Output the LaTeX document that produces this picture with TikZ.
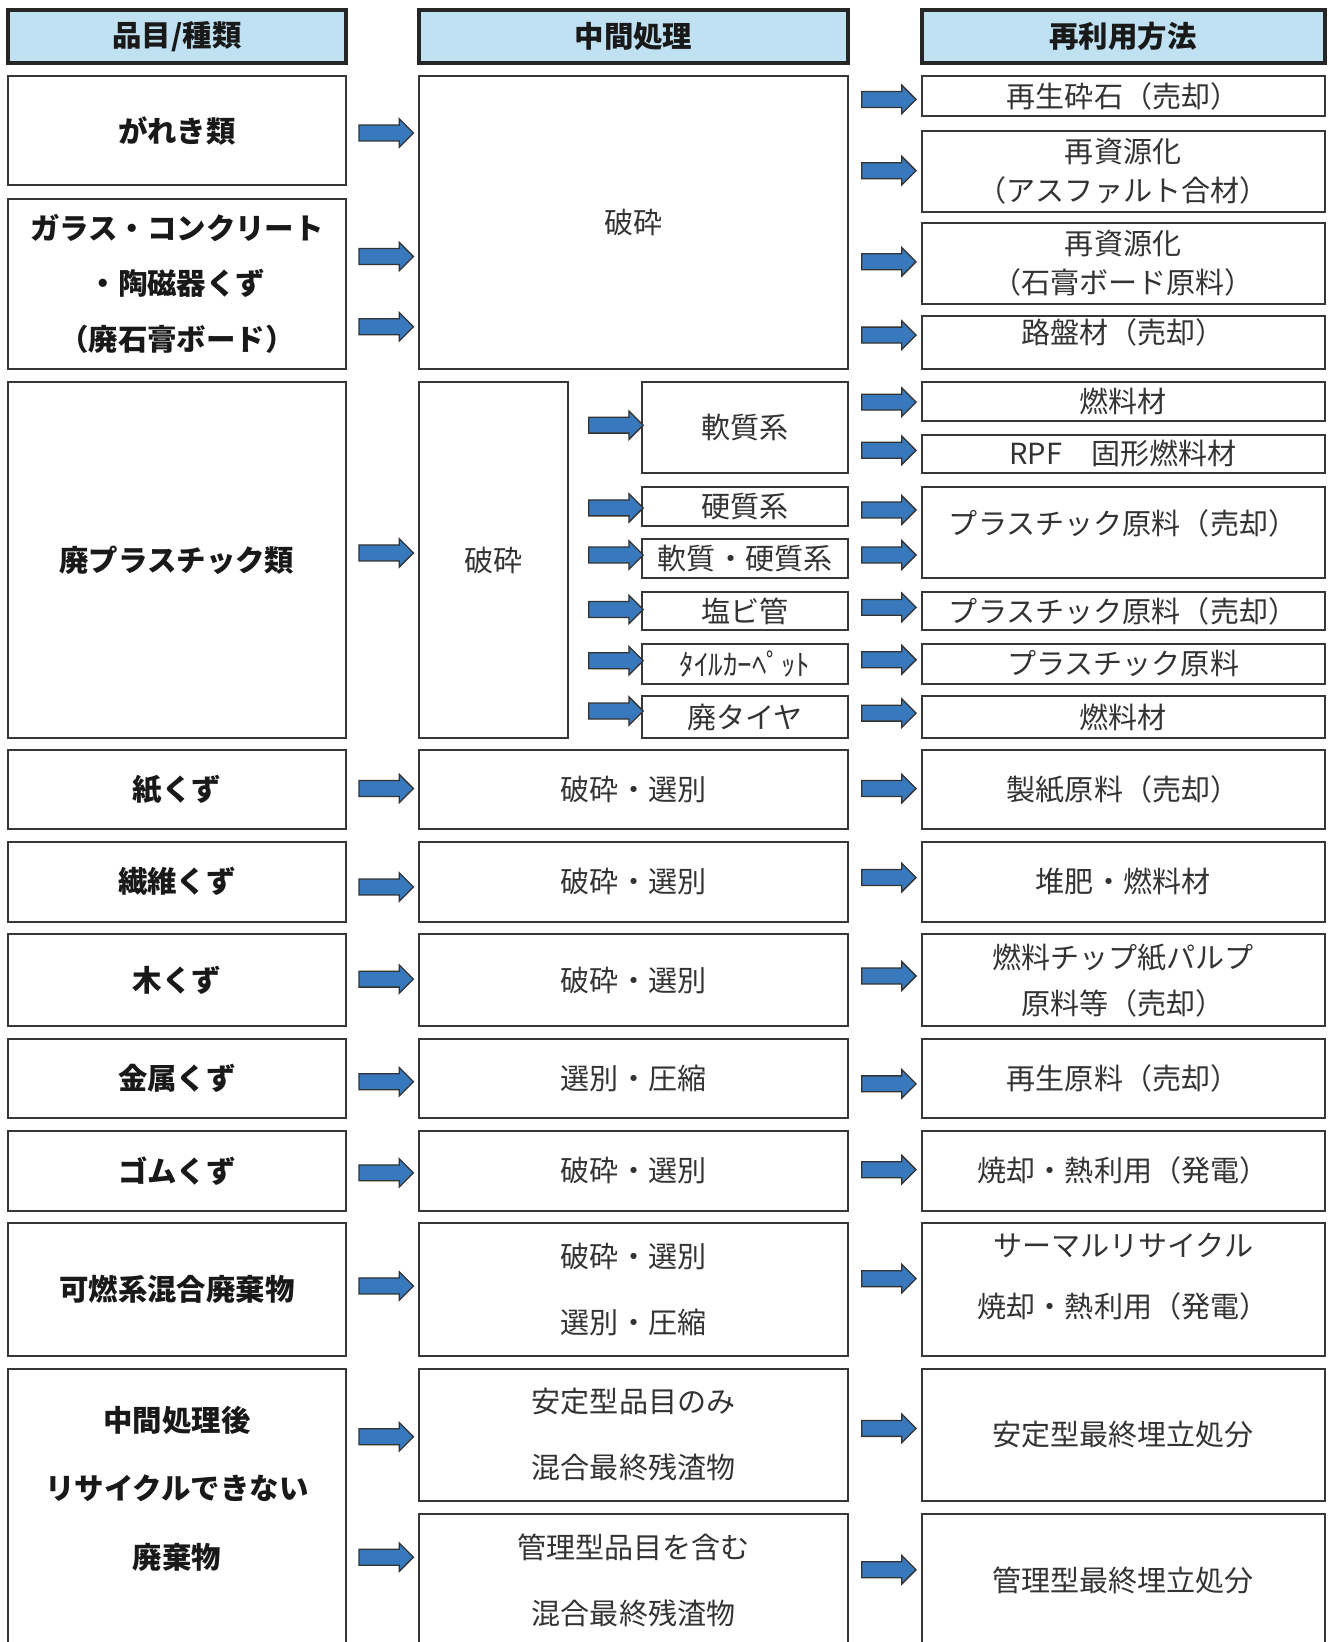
\documentclass[tikz,border=0pt]{standalone}
\usepackage{fontspec}
\setmainfont{Noto Sans CJK JP}
\usepackage{tikz}
\usetikzlibrary{shapes.arrows, positioning, calc}
\definecolor{head-blue}{RGB}{192,225,242}
\definecolor{flow-blue}{RGB}{56,120,188}
\definecolor{edge-gray}{RGB}{55,55,55}

\begin{document}
\begin{tikzpicture}[
    x=0.02cm, y=-0.02cm,
    box/.style={rectangle, draw=edge-gray, line width=1.1pt, inner sep=0pt, align=center, text=black!80, font=\fontsize{15.8}{18}\selectfont},
    kind/.style={box, minimum width=6.44cm, font=\fontsize{16}{18}\selectfont\bfseries, text=black!90},
    proc/.style={box, minimum width=8.2cm},
    sub/.style={box, minimum width=3.94cm},
    reuse/.style={box, minimum width=7.7cm},
    head/.style={box, fill=head-blue, draw=black!85, line width=2.2pt, minimum height=1cm, font=\fontsize{16}{18}\selectfont\bfseries, text=black!90},
    flow/.style={single arrow, draw=black!80, fill=flow-blue, line width=0.7pt, inner sep=0.14cm, single arrow head extend=0.12cm, minimum height=1.04cm}
]
\useasboundingbox (0,0) rectangle (1268,1568);

% Kopfzeile
\node[head, minimum width=6.44cm] (h-kind) at (169,35) {品目/種類};
\node[head, minimum width=8.2cm] (h-proc) at (605,35) {中間処理};
\node[head, minimum width=7.7cm] (h-reuse) at (1072.5,35) {再利用方法};

%品目/種類
\node[kind, minimum height=2.08cm] (gareki) at (169,125) {がれき類};
\node[kind, minimum height=3.24cm] (glass) at (169,271) {ガラス・コンクリート\\[12pt]・陶磁器くず\\[12pt]（廃石膏ボード）};
\node[kind, minimum height=6.8cm] (plastic) at (169,535) {廃プラスチック類};
\node[kind, minimum height=1.52cm] (paper) at (169,754) {紙くず};
\node[kind, minimum height=1.52cm] (fiber) at (169,842) {繊維くず};
\node[kind, minimum height=1.76cm] (wood) at (169,936) {木くず};
\node[kind, minimum height=1.52cm] (metal) at (169,1030) {金属くず};
\node[kind, minimum height=1.52cm] (rubber) at (169,1118) {ゴムくず};
\node[kind, minimum height=2.54cm] (mixed) at (169,1231.5) {可燃系混合廃棄物};
\node[kind, minimum height=5.3cm, text depth=0.77cm] (residue) at (169,1439.5) {中間処理後\\[19pt]リサイクルできない\\[19pt]廃棄物};

% 中間処理
\node[proc, minimum height=5.58cm] (crush) at (605,212.5) {破砕};
\node[box, minimum width=2.84cm, minimum height=6.8cm] (crush-pl) at (471,535) {破砕};
\node[sub, minimum height=1.74cm] (soft) at (711.5,408.5) {軟質系};
\node[sub, minimum height=0.74cm] (hard) at (711.5,483.5) {硬質系};
\node[sub, minimum height=0.74cm] (both) at (711.5,533.5) {軟質・硬質系};
\node[sub, minimum height=0.74cm] (pvc) at (711.5,583.5) {塩ビ管};
\node[sub, minimum height=0.76cm] (carpet) at (711.5,634) {ﾀｲﾙｶｰﾍﾟｯﾄ};
\node[sub, minimum height=0.8cm] (tire) at (711.5,685) {廃タイヤ};
\node[proc, minimum height=1.52cm] (p-paper) at (605,754) {破砕・選別};
\node[proc, minimum height=1.52cm] (p-fiber) at (605,842) {破砕・選別};
\node[proc, minimum height=1.76cm] (p-wood) at (605,936) {破砕・選別};
\node[proc, minimum height=1.52cm] (p-metal) at (605,1030) {選別・圧縮};
\node[proc, minimum height=1.52cm] (p-rubber) at (605,1118) {破砕・選別};
\node[proc, minimum height=2.54cm] (p-mixed) at (605,1231.5) {破砕・選別\\[18pt]選別・圧縮};
\node[proc, minimum height=2.52cm] (p-stable) at (605,1370) {安定型品目のみ\\[18pt]混合最終残渣物};
\node[proc, minimum height=2.52cm] (p-managed) at (605,1509) {管理型品目を含む\\[18pt]混合最終残渣物};

% 再利用方法
\node[reuse, minimum height=0.76cm] (r-stone) at (1072.5,92) {再生砕石（売却）};
\node[reuse, minimum height=1.54cm] (r-asphalt) at (1072.5,163.5) {再資源化\\[3pt]（アスファルト合材）};
\node[reuse, minimum height=1.54cm] (r-gypsum) at (1072.5,251.5) {再資源化\\[3pt]（石膏ボード原料）};
\node[reuse, minimum height=1cm, text depth=0.42cm] (r-roadbed) at (1072.5,327) {路盤材（売却）};
\node[reuse, minimum height=0.74cm] (r-fuel1) at (1072.5,383.5) {燃料材};
\node[reuse, minimum height=0.74cm] (r-rpf) at (1072.5,433.5) {RPF　固形燃料材};
\node[reuse, minimum height=1.74cm, text depth=0.4cm] (r-plsale1) at (1072.5,508.5) {プラスチック原料（売却）};
\node[reuse, minimum height=0.74cm] (r-plsale2) at (1072.5,583.5) {プラスチック原料（売却）};
\node[reuse, minimum height=0.76cm] (r-plraw) at (1072.5,634) {プラスチック原料};
\node[reuse, minimum height=0.8cm] (r-fuel2) at (1072.5,685) {燃料材};
\node[reuse, minimum height=1.52cm] (r-paper) at (1072.5,754) {製紙原料（売却）};
\node[reuse, minimum height=1.52cm] (r-compost) at (1072.5,842) {堆肥・燃料材};
\node[reuse, minimum height=1.76cm] (r-chip) at (1072.5,936) {燃料チップ紙パルプ\\[7pt]原料等（売却）};
\node[reuse, minimum height=1.52cm] (r-metal) at (1072.5,1030) {再生原料（売却）};
\node[reuse, minimum height=1.52cm] (r-burn) at (1072.5,1118) {焼却・熱利用（発電）};
\node[reuse, minimum height=2.54cm, text depth=0.55cm] (r-thermal) at (1072.5,1231.5) {サーマルリサイクル\\[15pt]焼却・熱利用（発電）};
\node[reuse, minimum height=2.52cm] (r-stable) at (1072.5,1370) {安定型最終埋立処分};
\node[reuse, minimum height=2.52cm] (r-managed) at (1072.5,1509) {管理型最終埋立処分};

% Pfeile: 品目 -> 中間処理
\path (gareki.east |- 0,127) -- (crush.west |- 0,127) node[flow, midway] {};
\path (glass.east |- 0,245) -- (crush.west |- 0,245) node[flow, midway] {};
\path (glass.east |- 0,312) -- (crush.west |- 0,312) node[flow, midway] {};
\path (plastic.east |- 0,528) -- (crush-pl.west |- 0,528) node[flow, midway] {};
\path (paper.east |- 0,753) -- (p-paper.west |- 0,753) node[flow, midway] {};
\path (fiber.east |- 0,847) -- (p-fiber.west |- 0,847) node[flow, midway] {};
\path (wood.east |- 0,935) -- (p-wood.west |- 0,935) node[flow, midway] {};
\path (metal.east |- 0,1033) -- (p-metal.west |- 0,1033) node[flow, midway] {};
\path (rubber.east |- 0,1120) -- (p-rubber.west |- 0,1120) node[flow, midway] {};
\path (mixed.east |- 0,1228) -- (p-mixed.west |- 0,1228) node[flow, midway] {};
\path (residue.east |- 0,1372) -- (p-stable.west |- 0,1372) node[flow, midway] {};
\path (residue.east |- 0,1487) -- (p-managed.west |- 0,1487) node[flow, midway] {};

% Pfeile: 破砕 -> Unterteilung
\path (crush-pl.east |- 0,406) -- (soft.west |- 0,406) node[flow, pos=0.6] {};
\path (crush-pl.east |- 0,485) -- (hard.west |- 0,485) node[flow, pos=0.6] {};
\path (crush-pl.east |- 0,530) -- (both.west |- 0,530) node[flow, pos=0.6] {};
\path (crush-pl.east |- 0,582) -- (pvc.west |- 0,582) node[flow, pos=0.6] {};
\path (crush-pl.east |- 0,631) -- (carpet.west |- 0,631) node[flow, pos=0.6] {};
\path (crush-pl.east |- 0,679) -- (tire.west |- 0,679) node[flow, pos=0.6] {};

% Pfeile: 中間処理 -> 再利用方法
\path (crush.east |- 0,95) -- (r-stone.west |- 0,95) node[flow, midway] {};
\path (crush.east |- 0,163) -- (r-asphalt.west |- 0,163) node[flow, midway] {};
\path (crush.east |- 0,250) -- (r-gypsum.west |- 0,250) node[flow, midway] {};
\path (crush.east |- 0,320) -- (r-roadbed.west |- 0,320) node[flow, midway] {};
\path (soft.east |- 0,384) -- (r-fuel1.west |- 0,384) node[flow, midway] {};
\path (soft.east |- 0,430) -- (r-rpf.west |- 0,430) node[flow, midway] {};
\path (hard.east |- 0,487) -- (r-plsale1.west |- 0,487) node[flow, midway] {};
\path (both.east |- 0,530) -- (r-plsale1.west |- 0,530) node[flow, midway] {};
\path (pvc.east |- 0,580) -- (r-plsale2.west |- 0,580) node[flow, midway] {};
\path (carpet.east |- 0,630) -- (r-plraw.west |- 0,630) node[flow, midway] {};
\path (tire.east |- 0,681) -- (r-fuel2.west |- 0,681) node[flow, midway] {};
\path (p-paper.east |- 0,753) -- (r-paper.west |- 0,753) node[flow, midway] {};
\path (p-fiber.east |- 0,838) -- (r-compost.west |- 0,838) node[flow, midway] {};
\path (p-wood.east |- 0,932) -- (r-chip.west |- 0,932) node[flow, midway] {};
\path (p-metal.east |- 0,1035) -- (r-metal.west |- 0,1035) node[flow, midway] {};
\path (p-rubber.east |- 0,1117) -- (r-burn.west |- 0,1117) node[flow, midway] {};
\path (p-mixed.east |- 0,1221) -- (r-thermal.west |- 0,1221) node[flow, midway] {};
\path (p-stable.east |- 0,1364) -- (r-stable.west |- 0,1364) node[flow, midway] {};
\path (p-managed.east |- 0,1499) -- (r-managed.west |- 0,1499) node[flow, midway] {};

\end{tikzpicture}
\end{document}
